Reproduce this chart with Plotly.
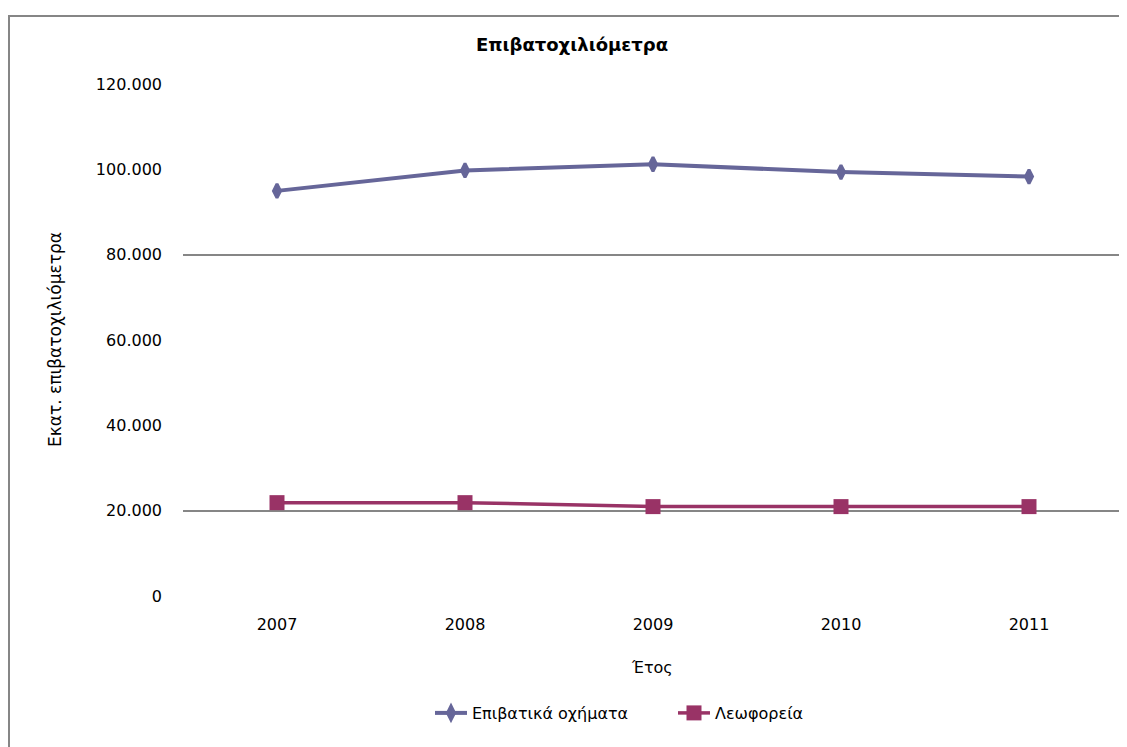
import plotly.graph_objects as go

years = ["2007", "2008", "2009", "2010", "2011"]
cars = [94950, 99750, 101200, 99350, 98300]
buses = [21880, 21880, 20950, 20950, 20950]
grid_vals = [20000, 80000]

FONT = "DejaVu Sans, Verdana, sans-serif"

# page has an 8px body margin, so the figure is sized/offset accordingly
W, H = 1119, 739
L, T, R, B = 175, 76, 4, 151
PW = W - L - R
PH = H - T - B

def px_x(page_x):
    return (page_x - 8 - L) / PW

def px_y(page_y):
    return (H - B - (page_y - 8)) / PH

fig = go.Figure()
fig.add_trace(go.Scatter(
    x=years, y=cars, name="Επιβατικά οχήματα", mode="lines+markers",
    line=dict(color="#666699", width=4),
    marker=dict(symbol="diamond-tall", size=10, color="#666699",
                line=dict(color="#666699", width=3)),
))
fig.add_trace(go.Scatter(
    x=years, y=buses, name="Λεωφορεία", mode="lines+markers",
    line=dict(color="#993366", width=3.5),
    marker=dict(symbol="square", size=15, color="#993366"),
))
# invisible trace to activate the gridline axis
fig.add_trace(go.Scatter(x=years, y=[None] * len(years), yaxis="y2",
                         showlegend=False, hoverinfo="skip"))

fig.update_layout(
    width=W, height=H,
    paper_bgcolor="white", plot_bgcolor="white",
    margin=dict(l=L, r=R, t=T, b=B),
    separators=",.",
    font=dict(family=FONT, size=16, color="black"),
    title=dict(text="<b>Επιβατοχιλιόμετρα</b>", x=564 / W, xref="container",
               xanchor="center", y=1 - 37 / H, yanchor="middle",
               font=dict(family=FONT, size=18, color="black")),
    xaxis=dict(range=[-0.5, 4.5], showgrid=False, showline=False, zeroline=False,
               ticks="", ticklabelstandoff=17,
               tickfont=dict(family=FONT, size=16, color="black")),
    yaxis=dict(range=[0, 120000], dtick=20000, tickformat=",d", showgrid=False,
               zeroline=False, showline=False, ticks="", ticklabelstandoff=20,
               tickfont=dict(family=FONT, size=16, color="black")),
    yaxis2=dict(range=[0, 120000], overlaying="y", tickvals=grid_vals,
                showticklabels=False, showgrid=True, gridcolor="#868686",
                gridwidth=2, zeroline=False, showline=False, ticks=""),
    legend=dict(orientation="h", x=px_x(673), xanchor="center", y=px_y(713),
                yanchor="middle", font=dict(family=FONT, size=16, color="black"),
                itemwidth=32, tracegroupgap=0,
                entrywidth=196, entrywidthmode="pixels"),
    showlegend=True,
)

fig.add_annotation(text="Έτος", xref="paper", yref="paper", x=px_x(652),
                   y=px_y(667), showarrow=False, yanchor="middle",
                   font=dict(family=FONT, size=16, color="black"))
fig.add_annotation(text="Εκατ. επιβατοχιλιόμετρα", xref="paper", yref="paper",
                   x=px_x(55), y=0.5, textangle=-90, showarrow=False,
                   xanchor="center", yanchor="middle",
                   font=dict(family=FONT, size=17, color="black"))

fig.add_shape(type="rect", xref="paper", yref="paper",
              x0=px_x(9), x1=1.05, y0=-0.4, y1=px_y(16),
              line=dict(color="#868686", width=2), layer="below")

fig.write_html("out.html")
